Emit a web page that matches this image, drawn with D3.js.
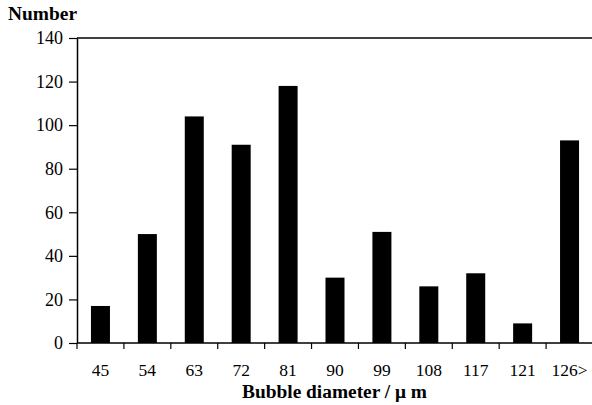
<!DOCTYPE html>
<html>
<head>
<meta charset="utf-8">
<script src="https://cdn.jsdelivr.net/npm/d3@7"></script>
<style>
  html, body { margin: 0; padding: 0; background: #fff; }
  svg { display: block; }
  text { font-family: "Liberation Serif", "Times New Roman", serif; fill: #000; }
</style>
</head>
<body>
<script>
// Bubble size distribution: count per diameter class
const categories = ["45", "54", "63", "72", "81", "90", "99", "108", "117", "121", "126>"];
const counts = [17, 50, 104, 91, 118, 30, 51, 26, 32, 9, 93];
const yTicks = [0, 20, 40, 60, 80, 100, 120, 140];

const W = 592, H = 405;
const margin = { top: 38, right: -1, bottom: 62, left: 77 };
const plotW = W - margin.left - margin.right;
const plotH = H - margin.top - margin.bottom;

const svg = d3.select("body").append("svg")
  .attr("width", W).attr("height", H);

const g = svg.append("g").attr("transform", `translate(${margin.left},${margin.top})`);

const xb = d3.scaleBand().domain(categories).range([0, plotW]);
const y = d3.scaleLinear().domain([0, 140]).range([plotH, 0]);
const barW = 19;

// bars
g.selectAll("rect.bar").data(categories).join("rect")
  .attr("class", "bar")
  .attr("x", (d) => xb(d) + (xb.bandwidth() - barW) / 2)
  .attr("width", barW)
  .attr("y", (d, i) => y(counts[i]))
  .attr("height", (d, i) => y(0) - y(counts[i]))
  .attr("fill", "#000");

// top frame line
g.append("line")
  .attr("x1", 0).attr("x2", plotW)
  .attr("y1", y(140)).attr("y2", y(140))
  .attr("stroke", "#000").attr("stroke-width", 1.5);

// y axis
const yAxis = g.append("g")
  .call(d3.axisLeft(y).tickValues(yTicks).tickSize(8).tickPadding(6).tickSizeOuter(0));
yAxis.select(".domain").attr("stroke-width", 1.5);
yAxis.selectAll(".tick line").attr("stroke-width", 1.2);
yAxis.selectAll(".tick text").style("font-size", "18px");

// x axis: ticks sit on the boundaries between classes
const xAxisG = g.append("g").attr("transform", `translate(0,${plotH})`);
xAxisG.append("line")
  .attr("x1", 0).attr("x2", plotW)
  .attr("stroke", "#000").attr("stroke-width", 1.5);
xAxisG.selectAll("line.tk").data(categories).join("line")
  .attr("class", "tk")
  .attr("x1", (d) => xb(d)).attr("x2", (d) => xb(d))
  .attr("y1", 0).attr("y2", 6)
  .attr("stroke", "#000").attr("stroke-width", 1.2);
xAxisG.selectAll("text.lbl").data(categories).join("text")
  .attr("class", "lbl")
  .attr("x", (d) => xb(d) + xb.bandwidth() / 2)
  .attr("y", 33)
  .attr("text-anchor", "middle")
  .style("font-size", "17.5px")
  .text((d) => d);

// axis titles
svg.append("text")
  .attr("x", 8).attr("y", 20)
  .attr("textLength", 69).attr("lengthAdjust", "spacingAndGlyphs")
  .style("font-size", "18px").style("font-weight", "bold")
  .text("Number");

svg.append("text")
  .attr("x", 242).attr("y", 397.5)
  .attr("textLength", 185).attr("lengthAdjust", "spacingAndGlyphs")
  .style("font-size", "18.5px").style("font-weight", "bold")
  .text("Bubble diameter / μ m");
</script>
</body>
</html>
